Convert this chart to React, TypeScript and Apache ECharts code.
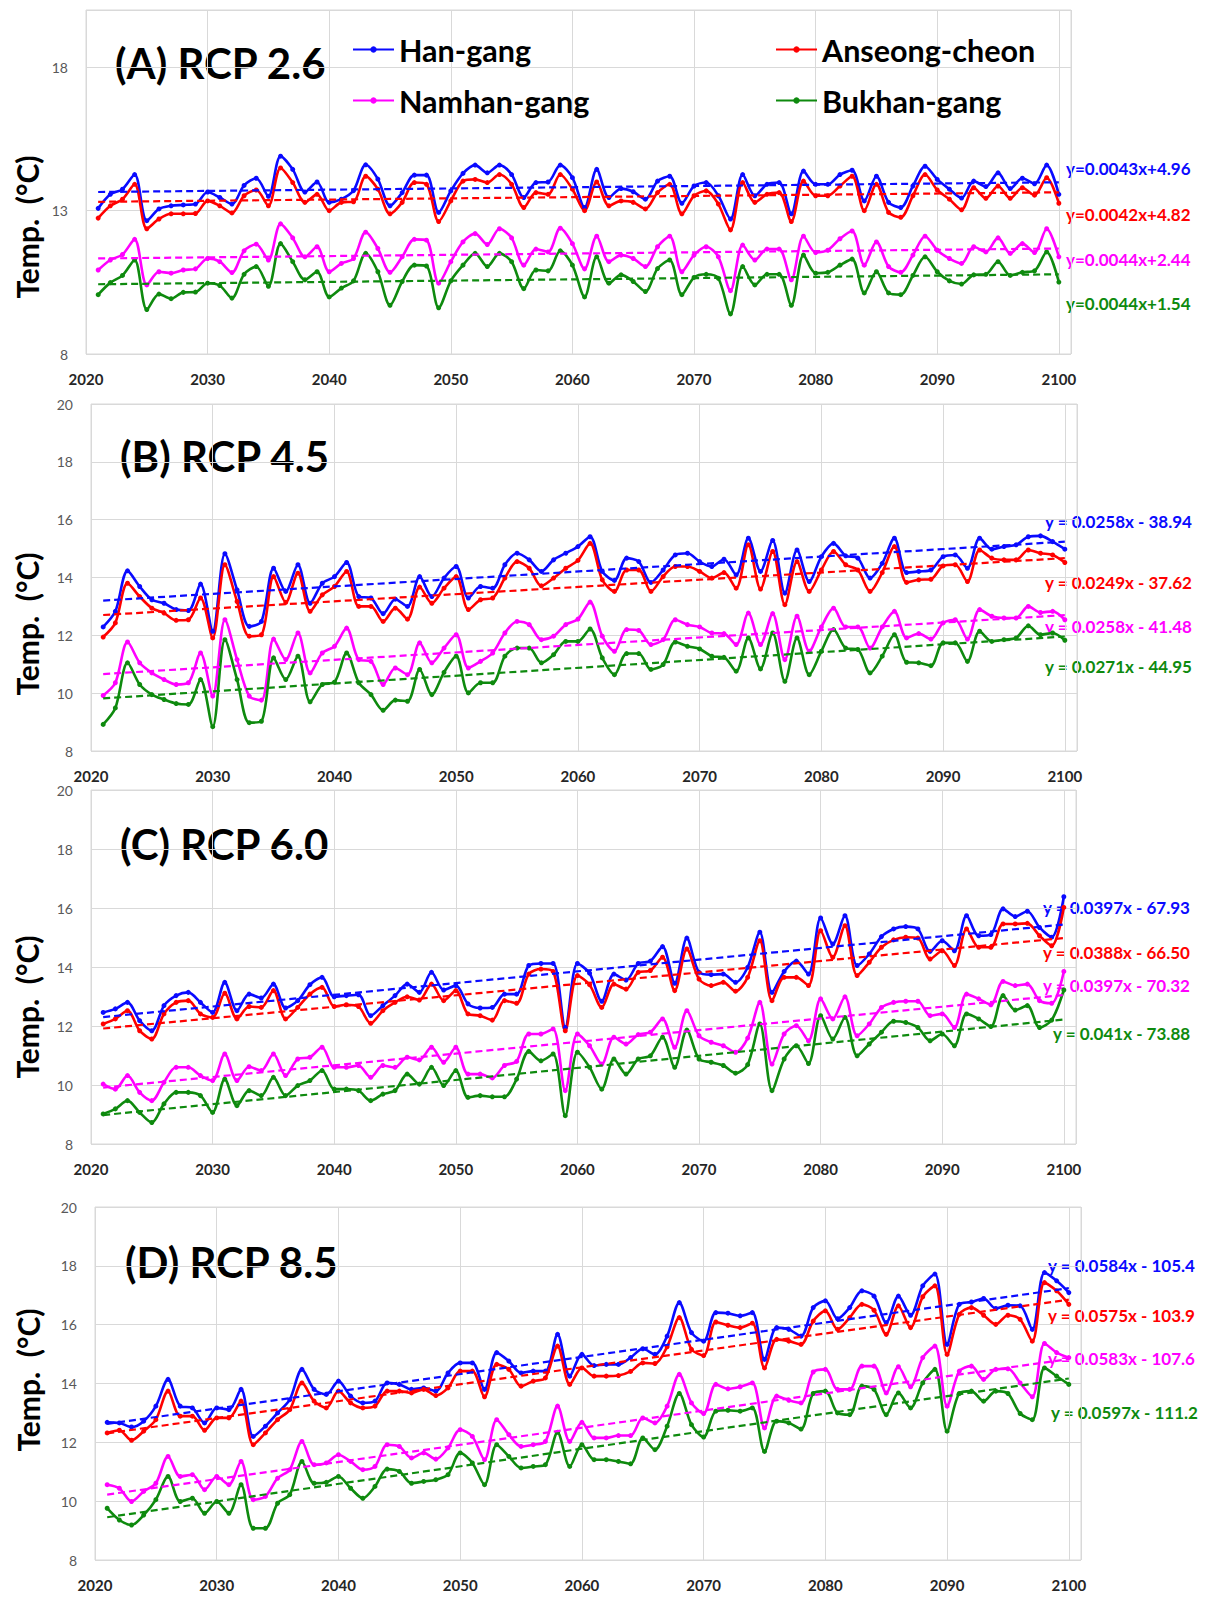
import React, { useEffect, useRef } from "react";
import * as echarts from "echarts";

// ---------- DATA ----------
const years = Array.from({ length: 80 }, (_, i) => 2021 + i);
const riverNames = ["Han-gang", "Anseong-cheon", "Namhan-gang", "Bukhan-gang"];
const riverColors = ["#0a0aff", "#ff0000", "#ff00ff", "#0e8a0e"];
const panelTitles = ["(A) RCP 2.6", "(B) RCP 4.5", "(C) RCP 6.0", "(D) RCP 8.5"];
const xTickYears = [2020, 2030, 2040, 2050, 2060, 2070, 2080, 2090, 2100];

// Panel A (RCP 2.6)
const hanA = [13.08, 13.57, 13.75, 14.26, 12.65, 13.06, 13.17, 13.2, 13.23, 13.65,
  13.46, 13.23, 13.88, 14.13, 13.5, 14.9, 14.44, 13.65, 14.0, 13.29,
  13.4, 13.7, 14.6, 14.1, 13.17, 13.63, 14.24, 14.24, 12.94, 13.69,
  14.3, 14.59, 14.32, 14.59, 14.26, 13.46, 13.98, 14.0, 14.59, 14.15,
  13.11, 14.44, 13.46, 13.77, 13.66, 13.4, 14.03, 14.2, 13.26, 13.86,
  13.98, 13.52, 12.71, 14.26, 13.52, 13.92, 13.98, 12.89, 14.38, 13.92,
  13.92, 14.26, 14.41, 13.34, 14.2, 13.29, 13.11, 13.86, 14.55, 14.09,
  13.75, 13.44, 14.03, 13.84, 14.32, 13.77, 14.13, 13.94, 14.59, 13.57];
const anseongA = [12.74, 13.17, 13.4, 13.92, 12.37, 12.71, 12.89, 12.89, 12.9, 13.34,
  13.17, 12.92, 13.52, 13.72, 13.17, 14.49, 13.98, 13.29, 13.57, 13.0,
  13.29, 13.31, 14.2, 13.75, 12.89, 13.29, 13.98, 13.92, 12.62, 13.34,
  14.03, 14.09, 13.98, 14.26, 13.92, 13.11, 13.63, 13.57, 14.26, 13.75,
  13.0, 14.0, 13.17, 13.34, 13.29, 13.06, 13.63, 13.92, 12.89, 13.52,
  13.69, 13.23, 12.33, 13.98, 13.29, 13.57, 13.63, 12.62, 14.03, 13.52,
  13.52, 13.86, 14.2, 13.0, 13.92, 12.94, 12.77, 13.52, 14.26, 13.72,
  13.4, 13.03, 13.8, 13.43, 13.86, 13.43, 13.8, 13.54, 14.15, 13.26];
const namhanA = [10.93, 11.28, 11.47, 12.0, 10.41, 10.87, 10.82, 10.93, 10.97, 11.33,
  11.22, 10.84, 11.6, 11.83, 11.28, 12.54, 12.05, 11.39, 11.74, 10.87,
  11.16, 11.33, 12.25, 11.68, 10.85, 11.39, 12.0, 11.97, 10.47, 11.22,
  11.91, 12.2, 11.82, 12.37, 12.05, 11.1, 11.66, 11.56, 12.39, 11.85,
  10.97, 12.11, 11.22, 11.45, 11.33, 11.05, 11.74, 12.11, 10.87, 11.45,
  11.74, 11.39, 10.21, 11.8, 11.28, 11.66, 11.66, 10.59, 12.11, 11.54,
  11.62, 12.02, 12.29, 11.1, 11.91, 11.05, 10.85, 11.45, 12.11, 11.62,
  11.33, 11.16, 11.74, 11.56, 12.05, 11.51, 11.85, 11.54, 12.37, 11.39];
const bukhanA = [10.07, 10.49, 10.74, 11.28, 9.55, 10.09, 9.93, 10.15, 10.16, 10.47,
  10.39, 9.95, 10.78, 11.05, 10.36, 11.85, 11.22, 10.59, 10.87, 9.99,
  10.3, 10.55, 11.51, 10.87, 9.7, 10.53, 11.1, 11.07, 9.61, 10.55,
  11.1, 11.51, 11.05, 11.51, 11.22, 10.28, 10.93, 10.9, 11.6, 11.1,
  9.99, 11.39, 10.47, 10.76, 10.53, 10.18, 10.98, 11.28, 10.07, 10.67,
  10.78, 10.64, 9.4, 11.05, 10.41, 10.78, 10.78, 9.7, 11.45, 10.82,
  10.85, 11.1, 11.31, 10.13, 10.87, 10.13, 10.07, 10.74, 11.39, 10.87,
  10.55, 10.44, 10.76, 10.78, 11.22, 10.74, 10.85, 10.9, 11.56, 10.51];

// Panel B (RCP 4.5)
const hanB = [12.29, 12.83, 14.23, 13.69, 13.23, 13.11, 12.89, 12.86, 13.77, 12.14,
  14.82, 13.57, 12.31, 12.48, 14.32, 13.52, 14.44, 13.11, 13.8, 14.03,
  14.52, 13.34, 13.29, 12.75, 13.25, 13.0, 14.03, 13.34, 13.98, 14.38,
  13.29, 13.69, 13.63, 14.44, 14.84, 14.61, 14.21, 14.61, 14.84, 15.07,
  15.41, 14.21, 13.9, 14.67, 14.55, 13.83, 14.26, 14.78, 14.84, 14.55,
  14.38, 14.63, 14.09, 15.36, 14.21, 15.28, 13.46, 14.95, 13.86, 14.72,
  15.18, 14.75, 14.67, 13.98, 14.49, 15.36, 14.17, 14.21, 14.26, 14.72,
  14.78, 14.32, 15.36, 14.98, 15.07, 15.13, 15.41, 15.44, 15.24, 14.98];
const anseongB = [11.94, 12.43, 13.8, 13.34, 12.94, 12.77, 12.52, 12.54, 13.29, 11.91,
  14.44, 13.17, 11.97, 12.02, 14.03, 13.14, 14.15, 12.83, 13.4, 13.69,
  14.21, 13.0, 13.0, 12.48, 12.94, 12.56, 13.67, 13.11, 13.63, 14.03,
  12.89, 13.23, 13.29, 13.98, 14.55, 14.32, 13.71, 13.98, 14.32, 14.59,
  15.18, 13.92, 13.52, 14.26, 14.26, 13.52, 14.03, 14.38, 14.38, 14.21,
  13.98, 14.17, 13.63, 15.13, 13.6, 14.9, 13.06, 14.55, 13.52, 14.26,
  14.9, 14.44, 14.26, 13.52, 14.17, 15.07, 13.83, 13.92, 13.94, 14.4,
  14.44, 13.86, 14.95, 14.67, 14.61, 14.61, 14.95, 14.84, 14.78, 14.52];
const namhanB = [9.92, 10.36, 11.77, 11.05, 10.7, 10.47, 10.3, 10.36, 11.39, 9.9,
  12.54, 11.16, 9.9, 9.76, 11.87, 11.16, 12.08, 10.7, 11.39, 11.62,
  12.25, 11.16, 11.1, 10.3, 10.87, 10.64, 11.74, 11.05, 11.56, 12.02,
  10.87, 11.1, 11.39, 12.08, 12.48, 12.37, 11.85, 11.97, 12.37, 12.56,
  13.15, 11.97, 11.45, 12.2, 12.17, 11.68, 11.85, 12.54, 12.37, 12.29,
  12.08, 12.06, 11.68, 12.77, 11.68, 12.75, 11.16, 12.66, 11.45, 12.29,
  12.94, 12.29, 12.29, 11.56, 12.29, 12.83, 11.91, 12.06, 11.87, 12.43,
  12.54, 11.87, 12.89, 12.66, 12.6, 12.6, 13.0, 12.79, 12.83, 12.54];
const bukhanB = [8.92, 9.49, 11.05, 10.3, 9.95, 9.78, 9.64, 9.61, 10.47, 8.84,
  11.85, 10.47, 8.98, 9.03, 11.22, 10.47, 11.28, 9.7, 10.3, 10.38,
  11.39, 10.36, 9.95, 9.41, 9.76, 9.72, 10.82, 9.95, 10.72, 11.28,
  10.01, 10.36, 10.36, 11.28, 11.56, 11.56, 11.05, 11.33, 11.79, 11.79,
  12.22, 11.22, 10.64, 11.37, 11.37, 10.82, 10.99, 11.77, 11.62, 11.53,
  11.28, 11.24, 10.76, 11.91, 10.84, 12.08, 10.41, 11.91, 10.64, 11.45,
  12.2, 11.56, 11.51, 10.7, 11.28, 12.02, 11.07, 11.05, 10.95, 11.74,
  11.74, 11.1, 12.14, 11.79, 11.85, 11.91, 12.33, 12.02, 12.08, 11.83];

// Panel C (RCP 6.0)
const hanC = [12.46, 12.58, 12.8, 12.18, 11.84, 12.69, 13.03, 13.14, 12.8, 12.46,
  13.48, 12.52, 13.08, 12.95, 13.42, 12.61, 12.86, 13.4, 13.65, 12.99,
  13.03, 13.06, 12.35, 12.69, 13.03, 13.42, 13.14, 13.82, 13.22, 13.37,
  12.75, 12.61, 12.63, 13.08, 13.08, 14.05, 14.12, 14.12, 11.95, 14.12,
  13.79, 12.84, 13.76, 13.56, 14.12, 14.2, 14.69, 13.45, 14.98, 13.82,
  13.74, 13.76, 13.48, 13.99, 15.18, 13.14, 13.85, 14.2, 13.76, 15.66,
  14.78, 15.74, 14.05, 14.44, 15.03, 15.29, 15.37, 15.29, 14.53, 14.89,
  14.55, 15.74, 15.06, 15.1, 15.97, 15.71, 15.89, 15.34, 15.01, 16.38];
const anseongC = [12.07, 12.24, 12.52, 11.84, 11.56, 12.41, 12.8, 12.86, 12.41, 12.29,
  13.11, 12.24, 12.66, 12.63, 13.2, 12.24, 12.63, 13.08, 13.31, 12.66,
  12.72, 12.66, 12.09, 12.52, 12.8, 12.99, 12.88, 13.42, 12.86, 13.2,
  12.41, 12.35, 12.2, 12.86, 12.77, 13.76, 13.93, 13.85, 11.84, 13.71,
  13.4, 12.63, 13.42, 13.25, 13.82, 13.88, 14.33, 13.2, 14.61, 13.59,
  13.37, 13.48, 13.18, 13.65, 14.89, 12.86, 13.65, 13.65, 13.37, 15.23,
  14.33, 15.4, 13.71, 14.16, 14.67, 14.92, 15.01, 14.98, 14.27, 14.55,
  14.05, 15.29, 14.67, 14.67, 15.46, 15.46, 15.48, 15.06, 14.72, 16.02];
const namhanC = [10.03, 9.86, 10.32, 9.75, 9.47, 10.09, 10.6, 10.6, 10.32, 10.15,
  11.05, 10.15, 10.62, 10.49, 11.05, 10.32, 10.88, 10.94, 11.28, 10.6,
  10.6, 10.66, 10.26, 10.66, 10.6, 10.94, 10.85, 11.28, 10.77, 11.28,
  10.37, 10.37, 10.24, 10.66, 10.8, 11.73, 11.73, 11.9, 9.81, 11.73,
  11.33, 10.71, 11.62, 11.39, 11.71, 11.79, 12.24, 11.28, 12.52, 11.67,
  11.45, 11.33, 11.11, 11.59, 12.8, 10.71, 11.73, 12.01, 11.5, 12.92,
  12.24, 12.99, 11.67, 12.07, 12.63, 12.8, 12.84, 12.84, 12.35, 12.41,
  11.95, 13.08, 12.92, 12.72, 13.51, 13.37, 13.42, 12.86, 12.77, 13.85];
const bukhanC = [9.02, 9.19, 9.47, 9.07, 8.73, 9.36, 9.75, 9.75, 9.64, 9.07,
  10.2, 9.3, 9.81, 9.64, 10.26, 9.64, 9.98, 10.15, 10.49, 9.86,
  9.86, 9.81, 9.47, 9.69, 9.81, 10.37, 10.03, 10.6, 9.98, 10.49,
  9.58, 9.64, 9.6, 9.6, 10.2, 11.14, 10.82, 11.05, 8.96, 11.11,
  10.6, 9.86, 10.88, 10.37, 10.88, 10.99, 11.62, 10.6, 11.86, 10.88,
  10.77, 10.66, 10.4, 10.69, 12.07, 9.81, 10.88, 11.33, 10.73, 12.35,
  11.56, 12.29, 10.99, 11.39, 11.79, 12.16, 12.12, 11.95, 11.5, 11.73,
  11.33, 12.41, 12.24, 11.98, 13.03, 12.54, 12.69, 11.95, 12.2, 13.22];

// Panel D (RCP 8.5)
const hanD = [12.68, 12.66, 12.52, 12.72, 13.23, 14.14, 13.23, 13.17, 12.66, 13.17,
  13.11, 13.8, 12.2, 12.55, 13.0, 13.45, 14.48, 13.8, 13.63, 14.08,
  13.57, 13.34, 13.4, 14.02, 13.97, 13.8, 13.85, 13.74, 14.36, 14.7,
  14.7, 13.8, 15.05, 14.76, 14.36, 14.42, 14.42, 15.67, 14.25, 14.99,
  14.61, 14.65, 14.65, 14.88, 15.18, 14.99, 15.61, 16.75, 15.73, 15.44,
  16.41, 16.39, 16.3, 16.41, 14.82, 15.9, 15.84, 15.61, 16.58, 16.81,
  16.2, 16.58, 17.15, 16.97, 16.07, 16.97, 16.32, 17.32, 17.72, 15.33,
  16.69, 16.77, 16.89, 16.55, 16.66, 16.64, 15.84, 17.77, 17.49, 17.09];
const anseongD = [12.32, 12.41, 12.07, 12.38, 12.77, 13.74, 12.89, 12.89, 12.41, 12.83,
  12.83, 13.4, 11.92, 12.32, 12.77, 13.11, 14.02, 13.4, 13.17, 13.74,
  13.34, 13.17, 13.23, 13.74, 13.74, 13.68, 13.8, 13.59, 13.85, 14.42,
  14.42, 13.55, 14.65, 14.48, 13.91, 14.08, 14.19, 15.27, 13.97, 14.53,
  14.25, 14.25, 14.27, 14.41, 14.7, 14.68, 15.25, 16.24, 15.16, 14.95,
  16.09, 15.98, 15.9, 16.05, 14.53, 15.5, 15.44, 15.33, 16.12, 16.47,
  15.84, 16.24, 16.69, 16.49, 15.67, 16.64, 15.9, 16.95, 17.32, 14.99,
  16.35, 16.58, 16.32, 16.01, 16.32, 16.18, 15.44, 17.43, 17.15, 16.69];
const namhanD = [10.56, 10.44, 9.99, 10.33, 10.61, 11.52, 10.84, 10.9, 10.39, 10.84,
  10.56, 11.35, 10.05, 10.16, 10.78, 11.07, 12.03, 11.24, 11.3, 11.58,
  11.35, 11.07, 11.18, 11.92, 11.86, 11.47, 11.64, 11.43, 11.81, 12.43,
  12.2, 11.41, 12.77, 12.26, 11.86, 11.92, 12.03, 13.23, 12.03, 12.68,
  12.15, 12.15, 12.23, 12.23, 12.83, 12.66, 13.23, 14.31, 13.34, 12.98,
  13.97, 13.82, 13.89, 14.02, 12.49, 13.57, 13.43, 13.34, 14.39, 14.48,
  13.8, 13.8, 14.59, 14.59, 13.68, 14.57, 13.89, 14.88, 15.27, 13.23,
  14.42, 14.59, 14.14, 14.48, 14.5, 14.02, 13.55, 15.36, 15.05, 14.88];
const bukhanD = [9.76, 9.36, 9.19, 9.53, 10.05, 10.84, 9.99, 10.1, 9.59, 9.99,
  9.59, 10.56, 9.08, 9.08, 9.93, 10.22, 11.35, 10.61, 10.64, 10.84,
  10.44, 10.1, 10.5, 11.09, 11.01, 10.61, 10.67, 10.73, 10.9, 11.64,
  11.3, 10.56, 11.92, 11.52, 11.13, 11.18, 11.24, 12.34, 11.18, 11.92,
  11.41, 11.41, 11.35, 11.27, 12.15, 11.75, 12.55, 13.66, 12.6, 12.18,
  13.06, 13.09, 13.06, 13.17, 11.69, 12.72, 12.66, 12.45, 13.66, 13.74,
  13.0, 12.94, 13.91, 13.8, 12.94, 13.68, 13.17, 14.02, 14.48, 12.38,
  13.66, 13.74, 13.4, 13.74, 13.66, 12.98, 12.77, 14.53, 14.25, 13.97];

// Linear trend equations (as printed in the figure)
const slopesA = [0.0043, 0.0042, 0.0044, 0.0044];
const interceptsA = [4.96, 4.82, 2.44, 1.54];
const slopesB = [0.0258, 0.0249, 0.0258, 0.0271];
const interceptsB = [-38.94, -37.62, -41.48, -44.95];
const slopesC = [0.0397, 0.0388, 0.0397, 0.041];
const interceptsC = [-67.93, -66.5, -70.32, -73.88];
const slopesD = [0.0584, 0.0575, 0.0583, 0.0597];
const interceptsD = [-105.4, -103.9, -107.6, -111.2];

const equationsA = ["y=0.0043x+4.96", "y=0.0042x+4.82", "y=0.0044x+2.44", "y=0.0044x+1.54"];
const equationsB = ["y = 0.0258x - 38.94", "y = 0.0249x - 37.62", "y = 0.0258x - 41.48", "y = 0.0271x - 44.95"];
const equationsC = ["y = 0.0397x - 67.93", "y = 0.0388x - 66.50", "y = 0.0397x - 70.32", "y = 0.041x - 73.88"];
const equationsD = ["y = 0.0584x - 105.4", "y = 0.0575x - 103.9", "y = 0.0583x - 107.6", "y = 0.0597x - 111.2"];

// ---------- LAYOUT / STYLE ----------
const FONT = "Lato, 'Open Sans', sans-serif";
const panels = [
  { values: [hanA, anseongA, namhanA, bukhanA], slopes: slopesA, intercepts: interceptsA, eqs: equationsA,
    grid: { left: 86, top: 10, width: 985, height: 344 }, yInterval: 5,
    titlePos: [115, 63], yNamePos: [27, 227],
    eqPos: [[1066, 168], [1066, 214], [1066, 259], [1066, 303]] },
  { values: [hanB, anseongB, namhanB, bukhanB], slopes: slopesB, intercepts: interceptsB, eqs: equationsB,
    grid: { left: 91, top: 404, width: 986, height: 347 }, yInterval: 2,
    titlePos: [120, 456], yNamePos: [27, 624],
    eqPos: [[1045, 521], [1045, 582], [1045, 626], [1045, 666]] },
  { values: [hanC, anseongC, namhanC, bukhanC], slopes: slopesC, intercepts: interceptsC, eqs: equationsC,
    grid: { left: 91, top: 790, width: 985, height: 354 }, yInterval: 2,
    titlePos: [120, 844], yNamePos: [27, 1007],
    eqPos: [[1043, 907], [1043, 952], [1043, 985], [1053, 1033]] },
  { values: [hanD, anseongD, namhanD, bukhanD], slopes: slopesD, intercepts: interceptsD, eqs: equationsD,
    grid: { left: 95, top: 1207, width: 986, height: 353 }, yInterval: 2,
    titlePos: [125, 1262], yNamePos: [28, 1380],
    eqPos: [[1048, 1265], [1048, 1315], [1048, 1358], [1051, 1412]] },
];

function buildOption() {
  const grids: any[] = [];
  const xAxes: any[] = [];
  const yAxes: any[] = [];
  const series: any[] = [];
  const graphics: any[] = [];

  panels.forEach((p, pi) => {
    grids.push({ ...p.grid, show: true, borderColor: "#d9d9d9", borderWidth: 1, backgroundColor: "transparent" });
    xAxes.push({
      type: "value", gridIndex: pi, min: xTickYears[0], max: 2101, interval: 10,
      axisLine: { show: false }, axisTick: { show: false },
      axisLabel: {
        showMaxLabel: false, fontSize: 15, fontWeight: "bold", color: "#262626", fontFamily: FONT, margin: 17,
        formatter: (v: number) => String(v),
      },
      splitLine: { show: true, lineStyle: { color: "#d9d9d9", width: 1 } },
    });
    yAxes.push({
      type: "value", gridIndex: pi, min: 8, max: 20, interval: p.yInterval,
      axisLine: { show: false }, axisTick: { show: false },
      axisLabel: { showMaxLabel: pi !== 0, fontSize: 14, color: "#595959", fontFamily: FONT, margin: 18 },
      splitLine: { show: true, lineStyle: { color: "#d9d9d9", width: 1 } },
    });
    p.values.forEach((vals, ri) => {
      series.push({
        type: "line", name: riverNames[ri], xAxisIndex: pi, yAxisIndex: pi,
        data: years.map((y, i) => [y, vals[i]]),
        smooth: 0.3, symbol: "circle", symbolSize: 5, showSymbol: true,
        color: riverColors[ri],
        lineStyle: { width: 2.6, color: riverColors[ri] },
        itemStyle: { color: riverColors[ri] },
        z: 3,
      });
    });
    p.values.forEach((_, ri) => {
      const a = p.slopes[ri], b = p.intercepts[ri];
      const x0 = years[0], x1 = years[years.length - 1];
      series.push({
        type: "line", name: riverNames[ri] + " trend", xAxisIndex: pi, yAxisIndex: pi,
        data: [[x0, a * x0 + b], [x1, a * x1 + b]],
        symbol: "none", silent: true,
        lineStyle: { width: 2.2, type: [7, 4], color: riverColors[ri] },
        z: 4,
      });
    });
    graphics.push({
      type: "text", x: p.titlePos[0], y: p.titlePos[1],
      style: { text: panelTitles[pi], fill: "#000", font: `bold 42px ${FONT}`, align: "left", verticalAlign: "middle" },
    });
    graphics.push({
      type: "text", x: p.yNamePos[0], y: p.yNamePos[1], rotation: Math.PI / 2,
      style: { text: "Temp.  (°C)", fill: "#000", font: `bold 30px ${FONT}`, align: "center", verticalAlign: "middle" },
    });
    p.eqs.forEach((t, ri) => {
      graphics.push({
        type: "text", x: p.eqPos[ri][0], y: p.eqPos[ri][1],
        style: { text: t, fill: riverColors[ri], font: `bold 17px ${FONT}`, align: "left", verticalAlign: "middle" },
      });
    });
  });

  const legendCommon = {
    orient: "vertical", padding: 0, itemWidth: 41, itemHeight: 8, itemGap: 20,
    textStyle: { fontSize: 30.5, fontWeight: "bold", color: "#000", fontFamily: FONT, lineHeight: 30 },
  };

  return {
    animation: false,
    backgroundColor: "#ffffff",
    grid: grids,
    xAxis: xAxes,
    yAxis: yAxes,
    legend: [
      { ...legendCommon, data: [riverNames[0], riverNames[2]], left: 352, top: 34 },
      { ...legendCommon, data: [riverNames[1], riverNames[3]], left: 775, top: 34 },
    ],
    series,
    graphic: graphics,
  };
}

export default function App() {
  const ref = useRef<HTMLDivElement>(null);
  useEffect(() => {
    if (!ref.current) return;
    const chart = echarts.init(ref.current, undefined, { renderer: "svg" });
    chart.setOption(buildOption() as any);
    return () => chart.dispose();
  }, []);
  return (
    <div
      ref={ref}
      style={{ position: "absolute", left: 0, top: 0, width: 1207, height: 1600, background: "#fff" }}
    />
  );
}
